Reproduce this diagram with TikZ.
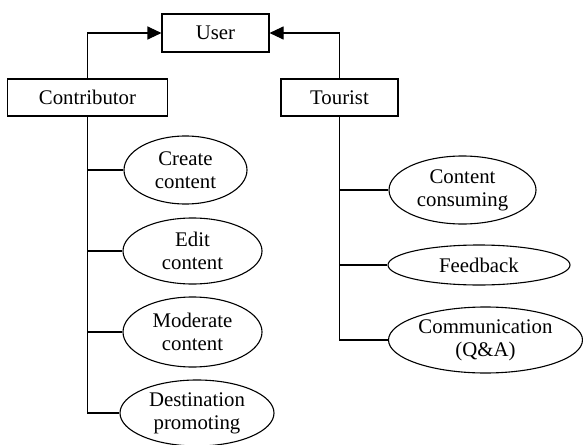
\documentclass[tikz,border=0pt]{standalone}
\usepackage{fontspec}
\setmainfont{Liberation Serif}
\usetikzlibrary{arrows.meta,shapes.geometric}
\begin{document}
\begin{tikzpicture}[x=1pt,y=-1pt,line width=1.1pt,
  txt/.style={font=\fontsize{20.8}{23}\selectfont},
  box/.style={txt,draw,rectangle,inner sep=0pt,minimum height=37pt},
  ell/.style={txt,draw,ellipse,inner sep=0pt,align=center},
  tip/.style={-{Triangle[length=14pt,width=13pt]}}]
\useasboundingbox (0,0) rectangle (583,444);
\node[box,minimum width=107pt,minimum height=38pt] (user) at (215.5,33) {User};
\node[box,minimum width=160pt] (contrib) at (87.5,97.5) {Contributor};
\node[box,minimum width=117pt] (tourist) at (339.5,97.5) {Tourist};
\node[ell,minimum width=123pt,minimum height=68pt] (create) at (185.5,170) {Create\\content};
\node[ell,minimum width=139pt,minimum height=66pt] (edit) at (192.5,251) {Edit\\content};
\node[ell,minimum width=139pt,minimum height=70pt] (moderate) at (192.5,332) {Moderate\\content};
\node[ell,minimum width=154pt,minimum height=66pt] (dest) at (197,413) {Destination\\promoting};
\node[ell,minimum width=147pt,minimum height=68pt] (consume) at (462.5,190) {Content\\consuming};
\node[ell,minimum width=182pt,minimum height=40pt] (feedback) at (479,265) {Feedback};
\node[ell,minimum width=194pt,minimum height=66pt] (comm) at (485.5,340) {Communication\\(Q\&A)};
\draw[tip] (contrib.north) |- (user.west);
\draw[tip] (tourist.north) |- (user.east);
\draw (contrib.south) |- (create.west);
\draw (contrib.south) |- (edit.west);
\draw (contrib.south) |- (moderate.west);
\draw (contrib.south) |- (dest.west);
\draw (tourist.south) |- (consume.west);
\draw (tourist.south) |- (feedback.west);
\draw (tourist.south) |- (comm.west);
\end{tikzpicture}
\end{document}
